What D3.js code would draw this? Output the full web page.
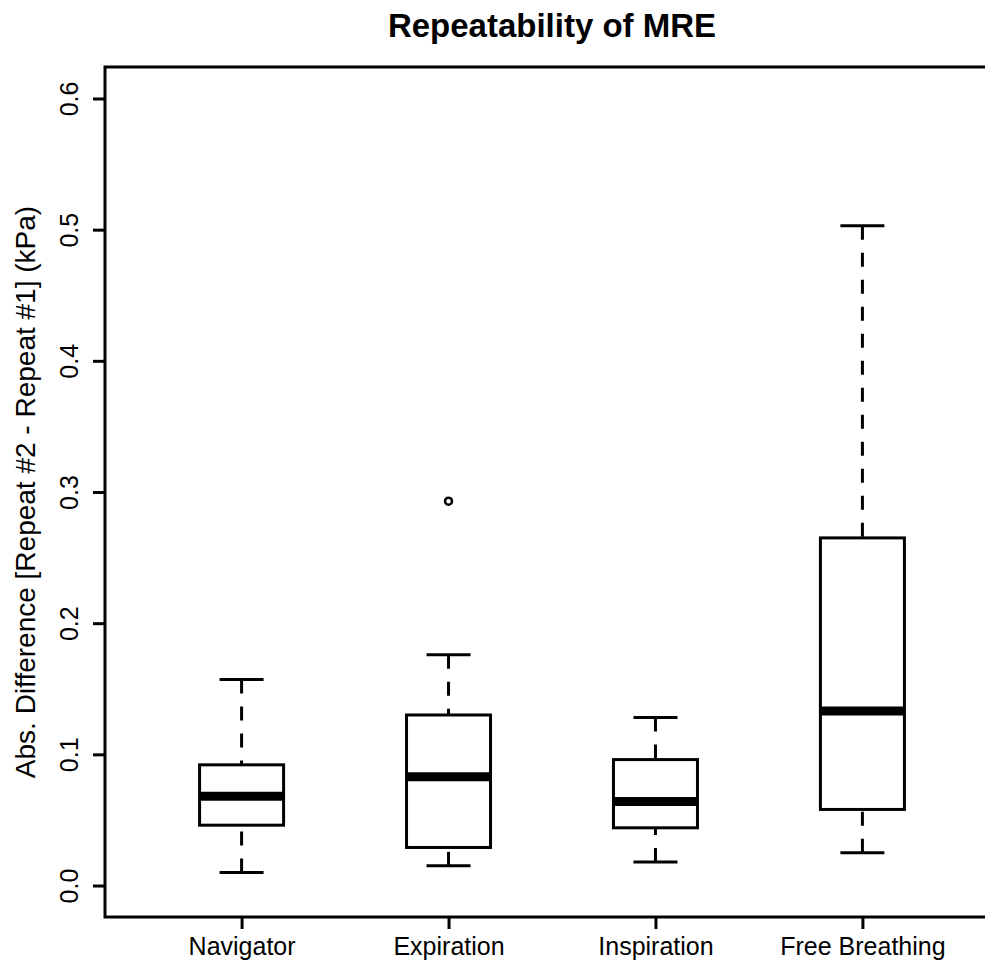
<!DOCTYPE html>
<html>
<head>
<meta charset="utf-8">
<script src="https://cdn.jsdelivr.net/npm/d3@7"></script>
<style>
  body { margin: 0; background: #fff; }
  svg { display: block; }
  text { font-family: Arial, "Liberation Sans", sans-serif; fill: #000; }
</style>
</head>
<body>
<script>
// boxplot stats
var categories = ["Navigator", "Expiration", "Inspiration", "Free Breathing"];
var whiskerLow  = [0.010, 0.015, 0.018, 0.025];
var boxLow      = [0.046, 0.029, 0.044, 0.058];
var medians     = [0.068, 0.083, 0.064, 0.133];
var boxHigh     = [0.092, 0.130, 0.096, 0.265];
var whiskerHigh = [0.157, 0.176, 0.128, 0.503];
var outliers    = [[], [0.293], [], []];
var yTicks = [0.0, 0.1, 0.2, 0.3, 0.4, 0.5, 0.6];

var width = 985, height = 965;
var margin = {left: 105, top: 67, right: 999, bottom: 917};

var svg = d3.select("body").append("svg").attr("width", width).attr("height", height);

var x = d3.scaleLinear().domain([0.34, 4.66]).range([margin.left, margin.right]);
var y = d3.scaleLinear().domain([-0.024, 0.624]).range([margin.bottom, margin.top]);

var boxHalf = 42, stapleHalf = 22;

var data = categories.map(function(c, i) {
  return {name: c, pos: i + 1, lo: whiskerLow[i], q1: boxLow[i], med: medians[i],
          q3: boxHigh[i], hi: whiskerHigh[i], out: outliers[i]};
});

var g = svg.selectAll(".bx").data(data).enter().append("g").attr("class", "bx");

// whiskers (dashed), drawn from the end toward the box
g.append("line")
  .attr("x1", function(d) { return x(d.pos); }).attr("x2", function(d) { return x(d.pos); })
  .attr("y1", function(d) { return y(d.lo); }).attr("y2", function(d) { return y(d.q1); })
  .attr("stroke", "#000").attr("stroke-width", 3).attr("stroke-dasharray", "14,13");
g.append("line")
  .attr("x1", function(d) { return x(d.pos); }).attr("x2", function(d) { return x(d.pos); })
  .attr("y1", function(d) { return y(d.hi); }).attr("y2", function(d) { return y(d.q3); })
  .attr("stroke", "#000").attr("stroke-width", 3).attr("stroke-dasharray", "14,13");

// staples
g.selectAll(".staple").data(function(d) { return [{x: d.pos, v: d.lo}, {x: d.pos, v: d.hi}]; })
  .enter().append("line")
  .attr("x1", function(s) { return x(s.x) - stapleHalf; }).attr("x2", function(s) { return x(s.x) + stapleHalf; })
  .attr("y1", function(s) { return y(s.v); }).attr("y2", function(s) { return y(s.v); })
  .attr("stroke", "#000").attr("stroke-width", 3);

// boxes
g.append("rect")
  .attr("x", function(d) { return x(d.pos) - boxHalf; })
  .attr("y", function(d) { return y(d.q3); })
  .attr("width", boxHalf * 2)
  .attr("height", function(d) { return y(d.q1) - y(d.q3); })
  .attr("fill", "#fff").attr("stroke", "#000").attr("stroke-width", 3);

// medians
g.append("line")
  .attr("x1", function(d) { return x(d.pos) - boxHalf; }).attr("x2", function(d) { return x(d.pos) + boxHalf; })
  .attr("y1", function(d) { return y(d.med); }).attr("y2", function(d) { return y(d.med); })
  .attr("stroke", "#000").attr("stroke-width", 9);

// outliers
g.selectAll(".out").data(function(d) { return d.out.map(function(v) { return {x: d.pos, v: v}; }); })
  .enter().append("circle")
  .attr("cx", function(o) { return x(o.x); }).attr("cy", function(o) { return y(o.v); })
  .attr("r", 3.5).attr("fill", "none").attr("stroke", "#000").attr("stroke-width", 2.5);

// plot frame
svg.append("rect")
  .attr("x", margin.left).attr("y", margin.top)
  .attr("width", margin.right - margin.left).attr("height", margin.bottom - margin.top)
  .attr("fill", "none").attr("stroke", "#000").attr("stroke-width", 3);

// y axis
var yAxis = d3.axisLeft(y).tickValues(yTicks).tickFormat(d3.format(".1f")).tickSize(12).tickPadding(0);
var yg = svg.append("g").attr("transform", "translate(" + margin.left + ",0)").call(yAxis);
yg.select(".domain").remove();
yg.selectAll(".tick line").attr("stroke", "#000").attr("stroke-width", 3);
yg.selectAll(".tick text")
  .attr("x", null).attr("dy", null)
  .attr("text-anchor", "middle")
  .attr("transform", "translate(-27,0) rotate(-90)")
  .style("font-size", "25px").style("font-family", "Arial, 'Liberation Sans', sans-serif");

// x axis
var xAxis = d3.axisBottom(x).tickValues(data.map(function(d) { return d.pos; }))
  .tickFormat(function(v) { return categories[v - 1]; }).tickSize(12).tickPadding(0);
var xg = svg.append("g").attr("transform", "translate(0," + margin.bottom + ")").call(xAxis);
xg.select(".domain").remove();
xg.selectAll(".tick line").attr("stroke", "#000").attr("stroke-width", 3);
xg.selectAll(".tick text")
  .attr("y", 38).attr("dy", null)
  .style("font-size", "25px").style("font-family", "Arial, 'Liberation Sans', sans-serif");

// title
svg.append("text")
  .attr("x", (margin.left + margin.right) / 2).attr("y", 37)
  .attr("text-anchor", "middle")
  .style("font-size", "33px").style("font-weight", "bold")
  .text("Repeatability of MRE");

// y label
svg.append("text")
  .attr("transform", "translate(35," + ((margin.top + margin.bottom) / 2) + ") rotate(-90)")
  .attr("text-anchor", "middle")
  .style("font-size", "28px")
  .text("Abs. Difference [Repeat #2 - Repeat #1] (kPa)");
</script>
</body>
</html>
